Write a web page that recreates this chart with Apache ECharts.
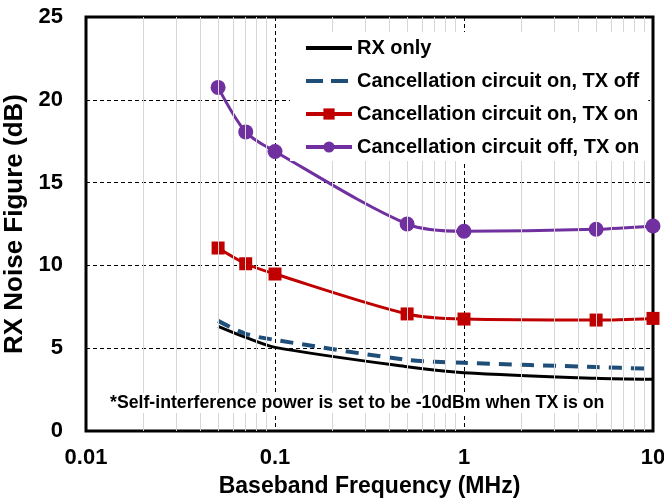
<!DOCTYPE html>
<html>
<head>
<meta charset="utf-8">
<script src="https://cdn.jsdelivr.net/npm/echarts@6/dist/echarts.min.js"></script>
<style>
  html, body { margin: 0; padding: 0; background: #fff; }
  #chart { width: 664px; height: 502px; }
</style>
</head>
<body>
<div id="chart"></div>
<script>
// Baseband frequency points (MHz)
const freqs = [0.05, 0.07, 0.1, 0.5, 1, 5, 10];

// Noise figure values (dB)
const rxOnly = [6.32, 5.65, 5.05, 3.88, 3.52, 3.18, 3.12];
const cancelOnTxOff = [6.65, 5.87, 5.5, 4.3, 4.12, 3.86, 3.75];
const cancelOnTxOn = [11.05, 10.1, 9.48, 7.07, 6.76, 6.7, 6.8];
const cancelOffTxOn = [20.75, 18.06, 16.88, 12.5, 12.06, 12.18, 12.38];

const seriesNames = [
    'RX only',
    'Cancellation circuit on, TX off',
    'Cancellation circuit on, TX on',
    'Cancellation circuit off, TX on'
];
const yTicks = [0, 5, 10, 15, 20, 25];
const xTickLabels = ['0.01', '0.1', '1', '10'];
const note = '*Self-interference power is set to be -10dBm when TX is on';

// light minor gridlines at 2..9 of each decade
const minorGrid = [];
[0.01, 0.1, 1].forEach(d => {
    for (let k = 2; k <= 9; k++) minorGrid.push(+(d * k).toPrecision(3));
});

const pair = vals => freqs.map((f, i) => [f, vals[i]]);
const FONT = 'Liberation Sans, Arial, sans-serif';

const chart = echarts.init(document.getElementById('chart'), null, { renderer: 'canvas' });

chart.setOption({
    backgroundColor: '#fff',
    animation: false,
    grid: {
        left: 86, right: 11, top: 17, bottom: 71,
        outerBoundsMode: 'none', containLabel: false,
        show: true, borderColor: '#000', borderWidth: 3, backgroundColor: 'transparent'
    },
    legend: {
        orient: 'vertical',
        left: 290, top: 32,
        padding: [6, 9, 4, 14],
        itemWidth: 46, itemHeight: 14, itemGap: 13,
        backgroundColor: '#fff',
        data: [
            { name: seriesNames[0], itemStyle: { opacity: 0 }, lineStyle: { width: 4 } },
            { name: seriesNames[1], itemStyle: { opacity: 0 }, lineStyle: { width: 4, type: [17, 8] } },
            { name: seriesNames[2], lineStyle: { width: 4 } },
            { name: seriesNames[3], lineStyle: { width: 4 } }
        ],
        textStyle: { fontFamily: FONT, fontWeight: 'bold', fontSize: 20, lineHeight: 20, color: '#000' },
        z: 6
    },
    xAxis: {
        type: 'log', logBase: 10, min: 0.01, max: 10,
        name: 'Baseband Frequency (MHz)', nameLocation: 'middle', nameGap: 44,
        nameTextStyle: { fontFamily: FONT, fontWeight: 'bold', fontSize: 23, color: '#000' },
        axisLine: { show: false }, axisTick: { show: false },
        axisLabel: {
            margin: 16, fontFamily: FONT, fontWeight: 'bold', fontSize: 22, color: '#000',
            formatter: v => {
                const lbl = xTickLabels.find(t => Math.abs(parseFloat(t) - v) < 1e-9);
                return lbl || '';
            }
        },
        splitLine: { show: true, lineStyle: { color: '#000', width: 1, type: [4, 3] } }
    },
    yAxis: {
        type: 'value', min: yTicks[0], max: yTicks[yTicks.length - 1], interval: 5,
        name: 'RX Noise Figure (dB)', nameLocation: 'middle', nameGap: 50,
        nameTextStyle: { fontFamily: FONT, fontWeight: 'bold', fontSize: 26, color: '#000' },
        axisLine: { show: false }, axisTick: { show: false },
        axisLabel: { margin: 23, fontFamily: FONT, fontWeight: 'bold', fontSize: 22, color: '#000' },
        splitLine: { show: true, lineStyle: { color: '#000', width: 1, type: [4, 3] } }
    },
    graphic: [{
        type: 'text',
        left: 107, top: 393,
        z: 10,
        style: {
            text: note,
            fontFamily: FONT, fontWeight: 'bold', fontSize: 17.7, fill: '#000',
            backgroundColor: '#fff', padding: [1, 3]
        }
    }],
    series: [
        {
            name: '_minor', type: 'line', data: [], silent: true, z: 1,
            markLine: {
                silent: true, symbol: 'none', label: { show: false },
                lineStyle: { color: '#d6d6d6', width: 1, type: 'solid' },
                data: minorGrid.map(v => ({ xAxis: v }))
            }
        },
        {
            name: seriesNames[0], type: 'line', data: pair(rxOnly), z: 3,
            smooth: 0.3, showSymbol: false, symbol: 'none',
            lineStyle: { color: '#000', width: 3 }, itemStyle: { color: '#000' }
        },
        {
            name: seriesNames[1], type: 'line', data: pair(cancelOnTxOff), z: 3,
            smooth: 0.3, showSymbol: false, symbol: 'none',
            lineStyle: { color: '#1f4e79', width: 4, type: [13, 9] }, itemStyle: { color: '#1f4e79' }
        },
        {
            name: seriesNames[2], type: 'line', data: pair(cancelOnTxOn), z: 4,
            smooth: 0.3, symbol: 'rect', symbolSize: 13,
            lineStyle: { color: '#c00000', width: 3 }, itemStyle: { color: '#c00000' }
        },
        {
            name: seriesNames[3], type: 'line', data: pair(cancelOffTxOn), z: 4,
            smooth: 0.3, symbol: 'circle', symbolSize: 15,
            lineStyle: { color: '#7030a0', width: 3 }, itemStyle: { color: '#7030a0' }
        }
    ]
});
</script>
</body>
</html>
